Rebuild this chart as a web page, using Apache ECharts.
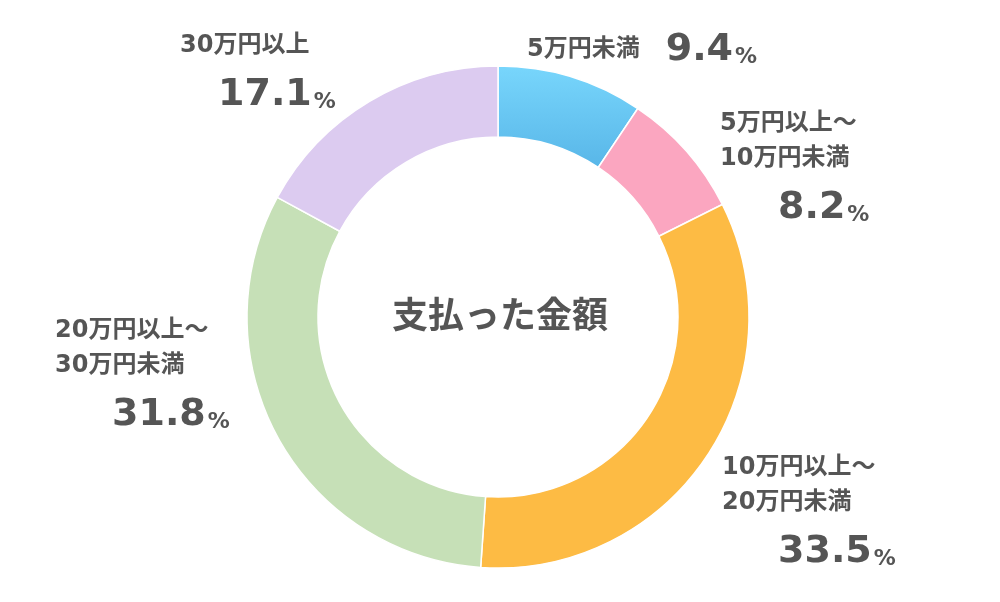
<!DOCTYPE html>
<html>
<head>
<meta charset="utf-8">
<script src="https://cdn.jsdelivr.net/npm/echarts@6/dist/echarts.min.js"></script>
<style>html,body{margin:0;padding:0;background:#fff}#main{width:1000px;height:602px}</style>
</head>
<body>
<div id="main"></div>
<script>
// データ
const names = ['5万円未満', '5万円以上～\n10万円未満', '10万円以上～\n20万円未満', '20万円以上～\n30万円未満', '30万円以上'];
const values = [9.4, 8.2, 33.5, 31.8, 17.1];
const title = '支払った金額';

// 色・ラベル位置（スタイル）
const colors = [
  new echarts.graphic.LinearGradient(0, 0, 0, 1, [{ offset: 0, color: '#78d6fc' }, { offset: 1, color: '#58b6e8' }]),
  '#fba6c0', '#fdbb44', '#c6e0b7', '#dccbf0'
];
const labelPos = [[527, 18], [720, 106], [722, 450], [55, 313], [180, 28]];
const valuePad = [26, 58, 56, 57, 38];
const FONT = '"DejaVu Sans", "Noto Sans CJK JP"';

const chart = echarts.init(document.getElementById('main'));
chart.setOption({
  animation: false,
  graphic: [{
    type: 'text',
    style: { text: title, x: 500, y: 314, fill: '#555', font: 'bold 36px "Noto Sans CJK JP"', textAlign: 'center', textVerticalAlign: 'middle' }
  }],
  series: [{
    type: 'pie',
    center: [498, 317],
    radius: [180, 251],
    startAngle: 90,
    clockwise: true,
    itemStyle: { borderColor: '#fff', borderWidth: 1.5 },
    labelLine: { show: false },
    emphasis: { disabled: true },
    data: values.map((v, i) => ({ value: v, name: names[i], itemStyle: { color: colors[i] } })),
    label: {
      show: true,
      position: 'outside',
      formatter: p => {
        const i = p.dataIndex;
        const nm = p.name.split('\n').map(s => '{n|' + s + '}').join('\n');
        const sep = i === 0 ? '' : '\n';
        return nm + sep + '{v' + i + '|' + p.value.toFixed(1) + '}{p|%}';
      },
      rich: Object.assign({
        n: { fontFamily: FONT, fontWeight: 'bold', fontSize: 24, color: '#555', lineHeight: 35 },
        p: { fontFamily: FONT, fontWeight: 'bold', fontSize: 22, color: '#555', lineHeight: 64, verticalAlign: 'bottom', padding: [0, 0, 14, 2] }
      }, Object.fromEntries(valuePad.map((pd, i) => ['v' + i, {
        fontFamily: FONT, fontWeight: 'bold', fontSize: 38, color: '#555', lineHeight: 64, padding: [0, 0, 0, pd]
      }])))
    },
    labelLayout: params => ({
      x: labelPos[params.dataIndex][0],
      y: labelPos[params.dataIndex][1],
      align: 'left',
      verticalAlign: 'top',
      hideOverlap: false
    })
  }]
});
</script>
</body>
</html>
